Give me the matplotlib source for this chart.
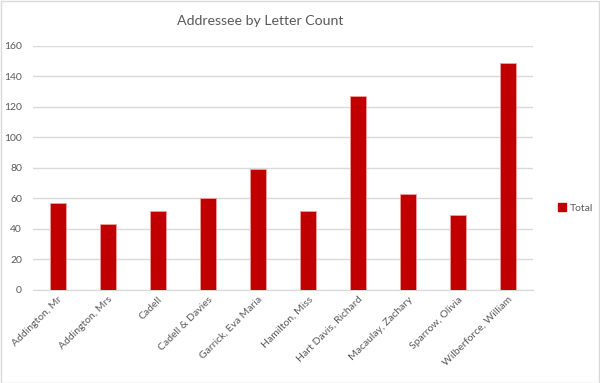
import matplotlib.pyplot as plt
from matplotlib.patches import Rectangle, Patch

plt.rcParams['font.family'] = ['Lato', 'DejaVu Sans']

addressees = ['Addington, Mr', 'Addington, Mrs', 'Cadell', 'Cadell & Davies',
              'Garrick, Eva Maria', 'Hamilton, Miss', 'Hart Davis, Richard',
              'Macaulay, Zachary', 'Sparrow, Olivia', 'Wilberforce, William']
totals = [57, 43, 52, 60, 79, 52, 127, 63, 49, 149]
yticks = [0, 20, 40, 60, 80, 100, 120, 140, 160]

text_col = '#595959'
bar_col = '#C00000'

fig = plt.figure(figsize=(6, 3.83), dpi=100)
ax = fig.add_axes([0.055, 0.243, 0.833, 0.637])

x = range(len(addressees))
ax.bar(x, totals, width=0.32, color=bar_col, edgecolor='#f0a0a0', linewidth=0.6, zorder=3)

ax.set_ylim(0, 160)
ax.set_xlim(-0.5, len(addressees) - 0.5)
ax.set_yticks(yticks)
ax.yaxis.grid(True, color='#d9d9d9', linewidth=1, zorder=0)
for s in ['top', 'right', 'left']:
    ax.spines[s].set_visible(False)
ax.spines['bottom'].set_color('#d9d9d9')
ax.tick_params(axis='both', length=0, colors=text_col, labelsize=7.5)
ax.tick_params(axis='y', pad=8)
ax.set_xticks(list(x))
ax.set_xticklabels(addressees, rotation=45, ha='right', rotation_mode='anchor', color=text_col)

fig.text(0.434, 0.945, 'Addressee by Letter Count', ha='center', va='center',
         fontsize=10.2, color=text_col)

leg = fig.legend(handles=[Patch(color=bar_col, label='Total')], loc='center left',
                 bbox_to_anchor=(0.915, 0.457), frameon=False, fontsize=7.5,
                 handlelength=0.7, handleheight=0.7, handletextpad=0.4, labelcolor=text_col)

fig.patches.append(Rectangle((0.001, 0.001), 0.998, 0.996, transform=fig.transFigure,
                             fill=False, edgecolor='#d9d9d9', linewidth=1))

fig.savefig('out.png', dpi=100)
